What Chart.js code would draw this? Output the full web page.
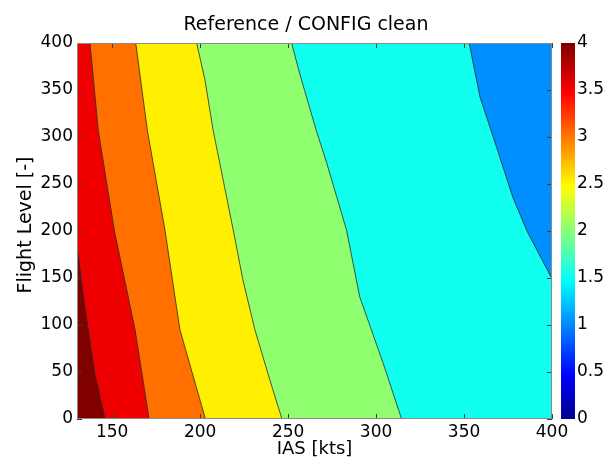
<!DOCTYPE html>
<html>
<head>
<meta charset="utf-8">
<script src="https://cdn.jsdelivr.net/npm/chart.js@4.4.0/dist/chart.umd.min.js"></script>
<style>
  body { margin: 0; background: #fff; }
  canvas { display: block; }
</style>
</head>
<body>
<canvas id="plot" width="612" height="465"></canvas>
<script>
const iasRange = [130, 400];
const flRange = [0, 400];
const iasTicks = [150, 200, 250, 300, 350, 400];
const flTicks = [0, 50, 100, 150, 200, 250, 300, 350, 400];
const cbTicks = [0, 0.5, 1, 1.5, 2, 2.5, 3, 3.5, 4];

// contour lines, each listed from the top of the plot downwards
const contourLevels = [4, 3.5, 3, 2.5, 2, 1.5];
const contourIAS = [
    [130, 133, 136.4, 140, 146],
    [137.4, 142.1, 151.2, 163, 171],
    [163.4, 170, 180, 188.5, 203],
    [198, 202.7, 207.4, 218.8, 224.3, 231.1, 239.7, 246.5],
    [252, 256.5, 266, 272, 283.2, 290.7, 303.9, 314.5],
    [352.9, 359, 368.5, 377.7, 385.5, 400]
];
const contourFL = [
    [185, 140, 95, 50, 0],
    [400, 307, 201, 95, 0],
    [400, 307, 201, 95, 0],
    [400, 361, 307, 201, 148, 95, 41, 0],
    [400, 368, 307, 272, 201, 130, 60, 0],
    [400, 343, 289, 236, 201, 149]
];

// band fill colours (jet), highest band first
const bandColors = ["#800000", "#EF0000", "#FF7000", "#FFEF00", "#8FFF70", "#10FFEF", "#008FFF"];

// jet colormap for the colour bar
const jetPos = [0, 0.117, 0.367, 0.617, 0.867, 1];
const jetColors = ["#00008F", "#0000FF", "#00FFFF", "#FFFF00", "#FF0000", "#800000"];

const [xMin, xMax] = iasRange;
const [yMin, yMax] = flRange;
const FONT = "'DejaVu Sans', sans-serif";

function contourPoints(i) {
    return contourIAS[i].map((x, k) => ({ x, y: contourFL[i][k] }));
}

// polygon covering everything on the high-IAS side of a contour
function rightSide(pts) {
    const poly = pts.slice();
    const first = pts[0], last = pts[pts.length - 1];
    if (last.y <= yMin) poly.push({ x: xMax, y: yMin });
    poly.push({ x: xMax, y: yMax });
    if (first.x <= xMin) poly.push({ x: xMin, y: yMax });
    return poly;
}

const datasets = [];

// whole plot starts as the top band
datasets.push({
    data: [{ x: xMin, y: yMin }, { x: xMax, y: yMin }, { x: xMax, y: yMax }, { x: xMin, y: yMax }],
    backgroundColor: bandColors[0],
    borderColor: "rgba(0,0,0,0)",
    borderWidth: 0,
    fill: "shape",
    pointRadius: 0,
    order: 20
});

contourLevels.forEach((lvl, i) => {
    datasets.push({
        label: "band " + lvl,
        data: rightSide(contourPoints(i)),
        backgroundColor: bandColors[i + 1],
        borderColor: "rgba(0,0,0,0)",
        borderWidth: 0,
        fill: "shape",
        pointRadius: 0,
        order: 19 - i
    });
});

contourLevels.forEach((lvl, i) => {
    datasets.push({
        label: "level " + lvl,
        data: contourPoints(i),
        borderColor: "#2a2a2a",
        borderWidth: 0.8,
        fill: false,
        pointRadius: 0,
        order: 1
    });
});

// colour bar next to the plot
const colorbar = {
    id: "colorbar",
    afterDraw(chart) {
        const { ctx, chartArea: a } = chart;
        const cb = chart.scales.cb;
        const top = cb.getPixelForValue(cb.max);
        const bottom = cb.getPixelForValue(cb.min);
        const g = ctx.createLinearGradient(0, bottom, 0, top);
        jetPos.forEach((p, i) => g.addColorStop(p, jetColors[i]));
        ctx.save();
        ctx.fillStyle = g;
        ctx.fillRect(a.right + 9, top, 14, bottom - top);
        ctx.restore();
    }
};

// axes box with inward ticks
const frame = {
    id: "frame",
    afterDatasetsDraw(chart) {
        const { ctx, chartArea: a, scales: { x, y } } = chart;
        const len = 5;
        ctx.save();
        ctx.strokeStyle = "#3c3c3c";
        ctx.lineWidth = 1;
        ctx.beginPath();
        x.ticks.forEach(t => {
            const px = Math.round(x.getPixelForValue(t.value)) + 0.5;
            ctx.moveTo(px, a.bottom);
            ctx.lineTo(px, a.bottom - len);
            ctx.moveTo(px, a.top);
            ctx.lineTo(px, a.top + len);
        });
        y.ticks.forEach(t => {
            const py = Math.round(y.getPixelForValue(t.value)) + 0.5;
            ctx.moveTo(a.left, py);
            ctx.lineTo(a.left + len, py);
            ctx.moveTo(a.right, py);
            ctx.lineTo(a.right - len, py);
        });
        ctx.stroke();
        ctx.strokeStyle = "#8a8a8a";
        ctx.strokeRect(a.left + 0.5, a.top + 0.5, a.right - a.left - 1, a.bottom - a.top - 1);
        ctx.restore();
    }
};

const tickFont = { family: FONT, size: 17 };
const labelFont = { family: FONT, size: 18 };

new Chart(document.getElementById("plot"), {
    type: "line",
    data: { datasets },
    options: {
        responsive: false,
        animation: false,
        layout: { padding: 0 },
        plugins: {
            legend: { display: false },
            tooltip: { enabled: false },
            title: {
                display: true,
                text: "Reference / CONFIG clean",
                color: "#000",
                font: { family: FONT, size: 19, weight: "normal" },
                padding: { top: 14, bottom: 6.2 }
            }
        },
        scales: {
            x: {
                type: "linear",
                position: "bottom",
                min: xMin,
                max: xMax,
                afterBuildTicks: s => { s.ticks = iasTicks.map(v => ({ value: v })); },
                afterFit: s => { s.height = 46; },
                grid: { display: false, drawTicks: false },
                border: { display: false },
                ticks: { color: "#000", font: tickFont, padding: 3, maxRotation: 0, autoSkip: false, callback: v => String(v) },
                title: { display: true, text: "IAS [kts]", color: "#000", font: labelFont, padding: { top: 0, bottom: 5 } }
            },
            y: {
                type: "linear",
                position: "left",
                min: yMin,
                max: yMax,
                afterBuildTicks: s => { s.ticks = flTicks.map(v => ({ value: v })); },
                afterFit: s => { s.width = 77; },
                grid: { display: false, drawTicks: false },
                border: { display: false },
                ticks: { color: "#000", font: tickFont, padding: 4, autoSkip: false, callback: v => String(v) },
                title: { display: true, text: "  Flight Level [-]", color: "#000", font: { family: FONT, size: 19 }, padding: { top: 15, bottom: 0 } }
            },
            cb: {
                type: "linear",
                axis: "y",
                position: "right",
                min: 0,
                max: 4,
                afterBuildTicks: s => { s.ticks = cbTicks.map(v => ({ value: v })); },
                afterFit: s => { s.width = 60; },
                grid: { display: false, drawTicks: false },
                border: { display: false },
                ticks: { color: "#000", font: tickFont, padding: 25, autoSkip: false, callback: v => String(v) }
            }
        }
    },
    plugins: [colorbar, frame]
});
</script>
</body>
</html>
